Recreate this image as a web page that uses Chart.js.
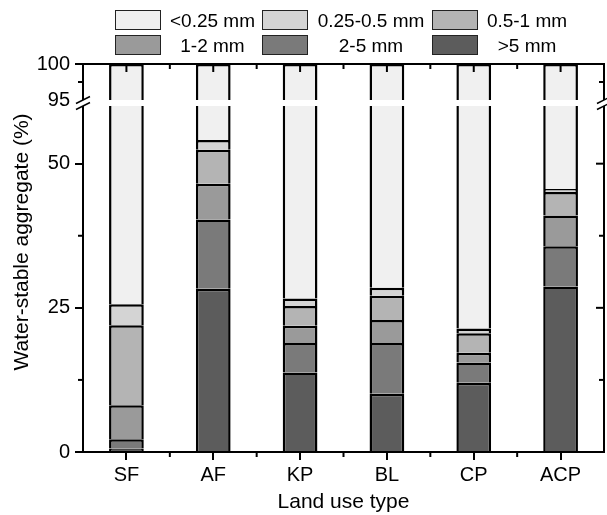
<!DOCTYPE html>
<html>
<head>
<meta charset="utf-8">
<title>Water-stable aggregate by land use type</title>
<script src="https://cdn.jsdelivr.net/npm/chart.js@4/dist/chart.umd.min.js"></script>
<style>
    html, body { margin: 0; padding: 0; background: #fff; }
    #wrap { position: relative; width: 607px; height: 515px; }
    #chart { position: absolute; left: 0; top: 0; }
    #legend { position: absolute; left: 0; top: 0; width: 607px; height: 60px;
              font-family: "Liberation Sans", Arial, sans-serif; font-size: 19px; color: #000; }
    .lg-box { position: absolute; width: 44px; height: 18px; border: 1.5px solid #222; }
    .lg-text { position: absolute; height: 21px; line-height: 21px; text-align: center; white-space: nowrap; }
</style>
</head>
<body>
<div id="wrap">
    <canvas id="chart" width="607" height="515"></canvas>
    <div id="legend"></div>
</div>
<script>
// Data (segment sizes in %, bottom to top of each bar)
const landUseTypes = ['SF', 'AF', 'KP', 'BL', 'CP', 'ACP'];
const sizeClasses = ['>5 mm', '2-5 mm', '1-2 mm', '0.5-1 mm', '0.25-0.5 mm', '<0.25 mm'];
const over5mm = [0.6, 28.3, 13.8, 10.1, 12.0, 28.7];
const from2to5mm = [1.6, 12.0, 5.1, 8.8, 3.5, 7.0];
const from1to2mm = [5.9, 6.2, 3.0, 4.0, 1.7, 5.3];
const from05to1mm = [13.9, 5.9, 3.4, 4.2, 3.4, 4.1];
const from025to05mm = [3.6, 1.7, 1.3, 1.4, 0.8, 0.5];
const under025mm = [74.4, 45.9, 73.4, 71.5, 78.6, 54.4];
const yTickValues = [0, 25, 50, 95, 100];
const yMinorValues = [12.5, 37.5, 97.5];

// Broken axis: 0-60 below the break, 95-100 above it
const BREAK_LOW = 60;
const BREAK_HIGH = 95;
const Y_MAX = 100;

document.addEventListener('DOMContentLoaded', function() {
    const fontFamily = '"Liberation Sans", Arial, sans-serif';
    const fills = ['#5c5c5c', '#7a7a7a', '#9a9a9a', '#b4b4b4', '#d4d4d4', '#f0f0f0'];
    const series = [over5mm, from2to5mm, from1to2mm, from05to1mm, from025to05mm, under025mm];

    Chart.defaults.font.family = fontFamily;
    Chart.defaults.color = '#000';

    // Linear scale with a gap between BREAK_LOW and BREAK_HIGH
    const upperFrac = 36 / 388;
    const gapFrac = 6 / 388;

    class BrokenScale extends Chart.LinearScale {
        buildTicks() {
            return yTickValues.map(v => ({ value: v }));
        }
        getPixelForValue(value) {
            const h = this.bottom - this.top;
            const upH = h * upperFrac;
            const gapH = h * gapFrac;
            const lowH = h - upH - gapH;
            if (value >= BREAK_HIGH) {
                return this.top + upH * (Y_MAX - value) / (Y_MAX - BREAK_HIGH);
            }
            if (value <= BREAK_LOW) {
                return this.bottom - lowH * value / BREAK_LOW;
            }
            return this.top + upH + gapH * (BREAK_HIGH - value) / (BREAK_HIGH - BREAK_LOW);
        }
        getValueForPixel(pixel) {
            const h = this.bottom - this.top;
            const upH = h * upperFrac;
            const gapH = h * gapFrac;
            const lowH = h - upH - gapH;
            if (pixel <= this.top + upH) {
                return Y_MAX - (pixel - this.top) / upH * (Y_MAX - BREAK_HIGH);
            }
            if (pixel >= this.top + upH + gapH) {
                return (this.bottom - pixel) / lowH * BREAK_LOW;
            }
            return BREAK_HIGH - (pixel - this.top - upH) / gapH * (BREAK_HIGH - BREAK_LOW);
        }
    }
    BrokenScale.id = 'broken';
    BrokenScale.defaults = Chart.LinearScale.defaults;
    Chart.register(BrokenScale);

    // Frame, mirrored ticks, minor ticks, axis break and y title
    const axisDecor = {
        id: 'axisDecor',
        afterDraw(chart) {
            const ctx = chart.ctx;
            const area = chart.chartArea;
            const x = chart.scales.x;
            const y = chart.scales.y;

            function seg(x1, y1, x2, y2) {
                ctx.beginPath();
                ctx.moveTo(x1, y1);
                ctx.lineTo(x2, y2);
                ctx.stroke();
            }

            ctx.save();
            ctx.strokeStyle = '#000';
            ctx.lineWidth = 2;

            // top and right frame
            seg(area.left - 1, area.top, area.right + 1, area.top);
            seg(area.right, area.top - 1, area.right, area.bottom + 1);

            // top ticks (inward) and minor x ticks
            for (let i = 0; i < landUseTypes.length; i++) {
                const cx = x.getPixelForValue(i);
                seg(cx, area.top, cx, area.top + 8);
                if (i < landUseTypes.length - 1) {
                    const bx = (cx + x.getPixelForValue(i + 1)) / 2;
                    seg(bx, area.top, bx, area.top + 5);
                    seg(bx, area.bottom, bx, area.bottom + 5);
                }
            }

            // right ticks (inward), left minor ticks (outward)
            yTickValues.forEach(v => {
                if (v === 0 || v === Y_MAX || v === BREAK_HIGH) return;
                const py = y.getPixelForValue(v);
                seg(area.right, py, area.right - 8, py);
            });
            yMinorValues.forEach(v => {
                const py = y.getPixelForValue(v);
                seg(area.right, py, area.right - 5, py);
                seg(area.left, py, area.left - 5, py);
            });

            // white gap across the plot for the axis break
            const gapTop = y.getPixelForValue(BREAK_HIGH);
            const gapBottom = y.getPixelForValue(BREAK_LOW);
            ctx.fillStyle = '#fff';
            ctx.fillRect(area.left - 3, gapTop, area.right - area.left + 6, gapBottom - gapTop);

            // break marks
            ctx.lineWidth = 1.5;
            [area.left, area.right].forEach(ax => {
                [gapTop, gapBottom].forEach(gy => {
                    seg(ax - 7, gy + 3.5, ax + 7, gy - 3.5);
                });
            });

            // y axis title
            ctx.fillStyle = '#000';
            ctx.font = '21px ' + fontFamily;
            ctx.textAlign = 'center';
            ctx.textBaseline = 'middle';
            ctx.translate(22, 242);
            ctx.rotate(-Math.PI / 2);
            ctx.fillText('Water-stable aggregate (%)', 0, 0);
            ctx.restore();
        }
    };

    const datasets = sizeClasses.map((label, i) => ({
        label: label,
        data: series[i],
        backgroundColor: fills[i],
        borderColor: '#000',
        borderWidth: 2.5,
        inflateAmount: 0,
        barPercentage: 0.4,
        categoryPercentage: 1.0
    }));

    new Chart(document.getElementById('chart').getContext('2d'), {
        type: 'bar',
        data: { labels: landUseTypes, datasets: datasets },
        options: {
            responsive: false,
            animation: false,
            events: [],
            layout: { padding: { top: 64, right: 3, left: 0, bottom: 0 } },
            plugins: {
                legend: { display: false },
                tooltip: { enabled: false }
            },
            scales: {
                x: {
                    stacked: true,
                    afterFit: function(scale) { scale.height = 63; },
                    grid: { display: true, drawOnChartArea: false, offset: false, tickLength: 8, color: '#000', lineWidth: 2 },
                    border: { display: true, color: '#000', width: 2, z: 1 },
                    ticks: { font: { size: 20 }, color: '#000', padding: 3 },
                    title: { display: true, text: 'Land use type', font: { size: 21 }, color: '#000', padding: { top: 0, bottom: 0 } }
                },
                y: {
                    type: 'broken',
                    stacked: true,
                    min: 0,
                    max: Y_MAX,
                    afterFit: function(scale) { scale.width = 83; },
                    grid: {
                        display: true,
                        drawOnChartArea: false,
                        tickLength: 8,
                        lineWidth: 2,
                        color: c => (c.tick && c.tick.value === BREAK_HIGH) ? 'rgba(0,0,0,0)' : '#000'
                    },
                    border: { display: true, color: '#000', width: 2, z: 1 },
                    ticks: { font: { size: 20 }, color: '#000', padding: 5, autoSkip: false }
                }
            }
        },
        plugins: [axisDecor]
    });

    // Legend: three columns, two rows, listed top class first
    const legendEl = document.getElementById('legend');
    const boxLeft = [115, 262, 432];
    const textLeft = [168, 315, 485];
    const textWidth = [89, 112, 84];
    const rowTop = [10, 35];
    const order = sizeClasses.map((_, i) => sizeClasses.length - 1 - i);
    order.forEach((dsIndex, k) => {
        const col = k % 3;
        const row = Math.floor(k / 3);
        const box = document.createElement('div');
        box.className = 'lg-box';
        box.style.left = boxLeft[col] + 'px';
        box.style.top = rowTop[row] + 'px';
        box.style.background = fills[dsIndex];
        legendEl.appendChild(box);

        const txt = document.createElement('div');
        txt.className = 'lg-text';
        txt.style.left = textLeft[col] + 'px';
        txt.style.top = rowTop[row] + 'px';
        txt.style.width = textWidth[col] + 'px';
        txt.textContent = sizeClasses[dsIndex];
        legendEl.appendChild(txt);
    });
});
</script>
</body>
</html>
